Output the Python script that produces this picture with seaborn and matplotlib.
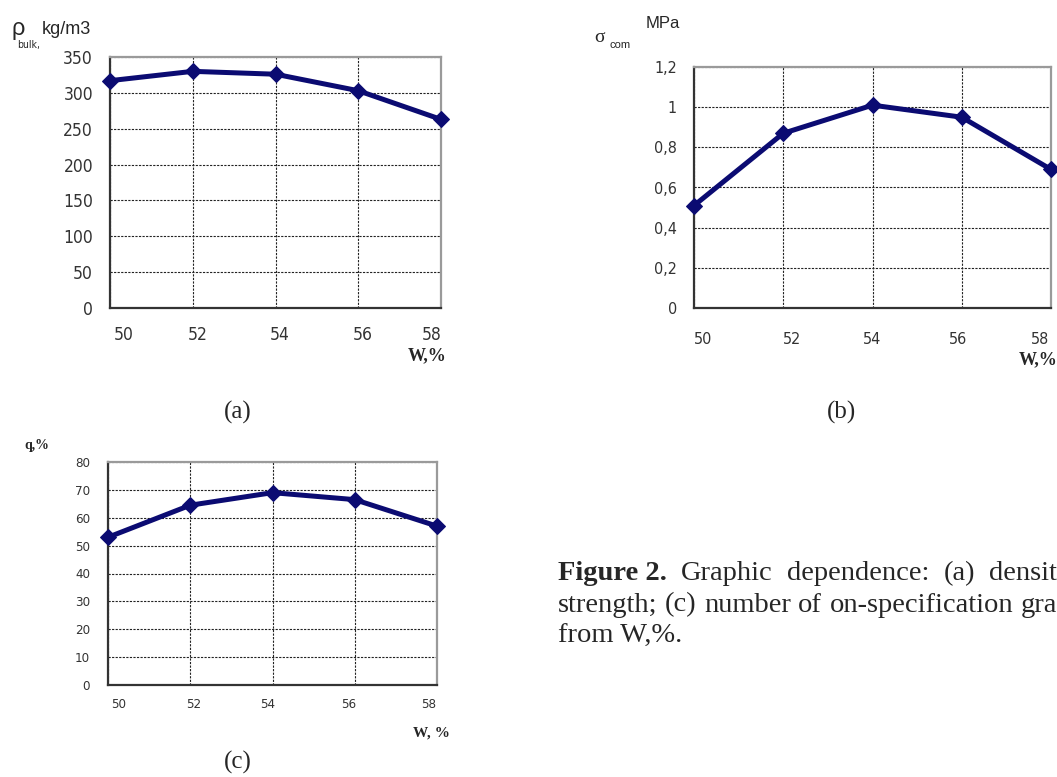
import matplotlib
matplotlib.use('Agg')
import matplotlib.pyplot as plt
import matplotlib.transforms as mtransforms
import seaborn as sns

# data
w = [50, 52, 54, 56, 58]
rho_bulk = [317, 330, 326, 303, 263]
sigma_com = [0.51, 0.87, 1.01, 0.95, 0.69]
q_pct = [53, 64.5, 69, 66.5, 57]

rho_ticks = [0, 50, 100, 150, 200, 250, 300, 350]
sigma_ticks = [0, 0.2, 0.4, 0.6, 0.8, 1.0, 1.2]
sigma_labels = ['0', '0,2', '0,4', '0,6', '0,8', '1', '1,2']
q_ticks = [0, 10, 20, 30, 40, 50, 60, 70, 80]

sns.set_style('white')
plt.rcParams['font.family'] = ['DejaVu Sans']
plt.rcParams['font.stretch'] = 'condensed'

W, H = 1057, 777
fig = plt.figure(figsize=(W / 100, H / 100), dpi=100)
renderer = fig.canvas.get_renderer()

LINE = '#0b0b72'


def px_axes(left, top, right, bottom):
    return fig.add_axes([left / W, 1 - bottom / H, (right - left) / W, (bottom - top) / H])


def ftext(x, y, s, **kw):
    return fig.text(x / W, 1 - y / H, s, **kw)


def text_width(s, **kw):
    t = ftext(0, 0, s, **kw)
    wd = t.get_window_extent(renderer).width
    t.remove()
    return wd


def justify(words, x0, cut_part, y, first_kw=None, **kw):
    # justified paragraph line that runs off the page: the last word is cut
    # right after `cut_part` at the figure edge
    arts = []
    for i, wd in enumerate(words):
        extra = first_kw if (i == 0 and first_kw) else {}
        arts.append(ftext(x0, y, wd, **kw, **extra))
    widths = [a.get_window_extent(renderer).width for a in arts]
    x_last = W - text_width(cut_part, **kw)
    gap = (x_last - x0 - sum(widths[:-1])) / (len(words) - 1)
    x = x0
    for a, wd in zip(arts, widths):
        a.set_x(x / W)
        x += wd + gap


def style_panel(ax, y, yticks, ylabels, tick_fs, ytick_len, ypad, xpad, xoffsets):
    sns.lineplot(x=w, y=y, ax=ax, color=LINE, linewidth=3.6, marker='D',
                 markersize=8.5, markeredgecolor=LINE, markerfacecolor=LINE,
                 clip_on=False, zorder=5)
    ax.set_xlim(50, 58)
    ax.set_ylim(yticks[0], yticks[-1])
    ax.set_xticks(w)
    ax.set_xticklabels([str(v) for v in w], fontsize=tick_fs, color='#333333',
                       fontstretch='condensed')
    ax.set_yticks(yticks)
    ax.set_yticklabels(ylabels, fontsize=tick_fs, color='#333333',
                       fontstretch='condensed')
    ax.tick_params(axis='x', length=0, pad=xpad)
    ax.tick_params(axis='y', length=ytick_len, width=1.2, color='#333333', pad=ypad)
    ax.grid(True, color='#222222', linestyle=(0, (2, 1.2)), linewidth=0.8)
    ax.set_axisbelow(True)
    for side in ['left', 'bottom']:
        ax.spines[side].set_color('#333333')
        ax.spines[side].set_linewidth(1.6)
    for side in ['top', 'right']:
        ax.spines[side].set_color('#9a9a9a')
        ax.spines[side].set_linewidth(1.6)
    ax.set_xlabel('')
    ax.set_ylabel('')
    # Excel-like shifted category labels
    for lab, dx in zip(ax.get_xticklabels(), xoffsets):
        lab.set_transform(lab.get_transform() +
                          mtransforms.ScaledTranslation(dx / 100, 0, fig.dpi_scale_trans))


# (a) bulk density
ax_a = px_axes(110, 57, 441, 308)
style_panel(ax_a, rho_bulk, rho_ticks, [str(v) for v in rho_ticks], 12.5,
            3.6, 8.6, 13, [14, 5, 4, 4, -9])
ftext(11, 29, 'ρ', fontsize=17, va='center', family='Liberation Sans')
ftext(17, 45, 'bulk,', fontsize=7.5, va='center')
ftext(42, 29, 'kg/m3', fontsize=13, va='center', family='Liberation Sans')
ftext(447, 356, 'W,%', fontsize=13, ha='right', va='center',
      family='Liberation Serif', fontweight='bold')

# (b) compressive strength
ax_b = px_axes(694, 67, 1051, 308)
style_panel(ax_b, sigma_com, sigma_ticks, sigma_labels, 11.5,
            4.3, 8, 17, [9, 9, 0, -4, -11])
ftext(594, 37, 'σ', fontsize=14, va='center', family='Liberation Serif')
ftext(610, 45, 'com', fontsize=8, va='center', family='Liberation Sans')
ftext(646, 23, 'MPa', fontsize=12, va='center', family='Liberation Sans')
ftext(1058, 360, 'W,%', fontsize=13, ha='right', va='center',
      family='Liberation Serif', fontweight='bold')

# (c) on-specification granules
ax_c = px_axes(108, 462, 437, 685)
style_panel(ax_c, q_pct, q_ticks, [str(v) for v in q_ticks], 9.5,
            2.9, 10, 9, [11, 3, -5, -6, -8])
ftext(24, 445, 'q,%', fontsize=10, va='center', family='Liberation Serif',
      fontweight='bold')
ftext(450, 733, 'W, %', fontsize=11, ha='right', va='center',
      family='Liberation Serif', fontweight='bold')

# panel captions
cap_kw = dict(fontsize=18, ha='center', va='center', family='Liberation Serif')
ftext(238, 412, '(a)', **cap_kw)
ftext(842, 412, '(b)', **cap_kw)
ftext(238, 762, '(c)', **cap_kw)

# figure caption (justified, runs off the right edge like the source page)
body_kw = dict(fontsize=20.5, va='center', family='Liberation Serif')
justify(['Figure 2.', 'Graphic', 'dependence:', '(a)', 'density;'],
        558, 'densit', 574, first_kw=dict(fontweight='bold'), **body_kw)
justify(['strength;', '(c)', 'number', 'of', 'on-specification', 'granules'],
        558, 'gra', 605, **body_kw)
ftext(558, 636, 'from W,%.', **body_kw)

fig.savefig('out.png', dpi=100)
